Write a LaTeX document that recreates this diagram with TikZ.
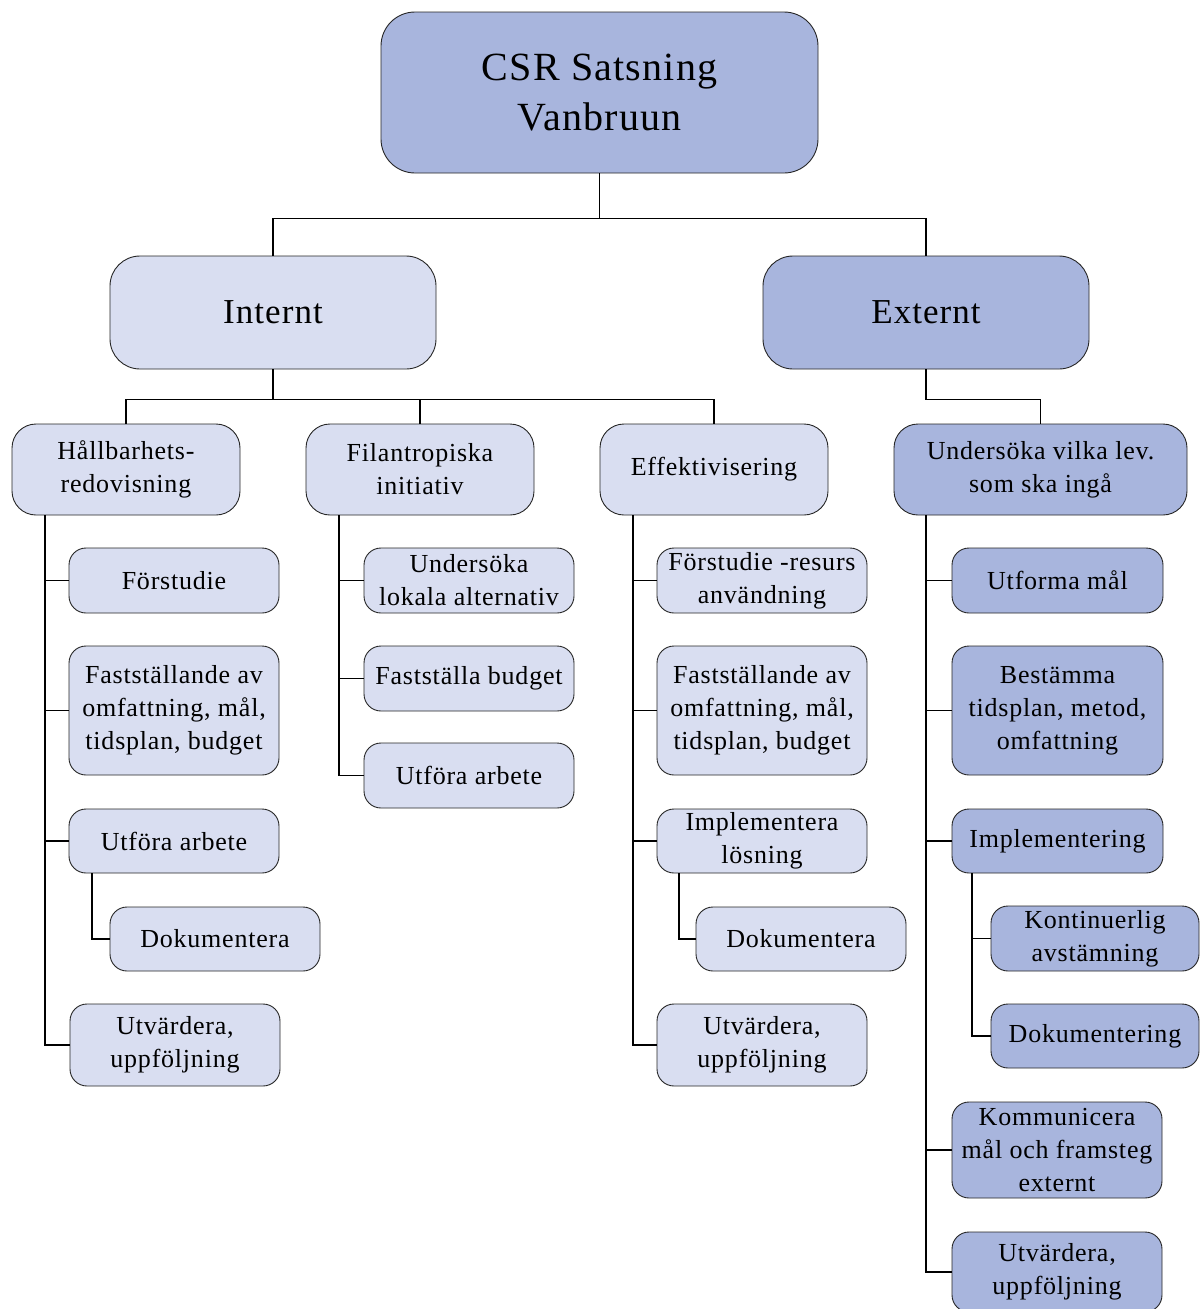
\documentclass[tikz,border=0pt]{standalone}
\usepackage{fontspec}
\setmainfont[LetterSpace=3]{Liberation Serif}
\definecolor{darkc}{HTML}{A8B5DD}
\definecolor{lightc}{HTML}{D9DEF1}
\begin{document}
\begin{tikzpicture}[x=1pt,y=-1pt,
  box/.style={draw=black!85, line width=0.9pt, rounded corners=17pt, align=center, inner sep=0pt,
    font=\fontsize{26}{33}\selectfont},
  lbox/.style={box, fill=lightc},
  dbox/.style={box, fill=darkc},
  conn/.style={draw=black, line width=1.3pt}]
\useasboundingbox (0,0) rectangle (1200,1309);
\clip (0,0) rectangle (1200,1309);
% top level
\node[dbox, minimum width=437pt, minimum height=161pt, rounded corners=34pt, font=\fontsize{40}{50}\selectfont] (top) at (599.5,92.5) {CSR Satsning\\Vanbruun};
\node[lbox, minimum width=326pt, minimum height=113pt, rounded corners=30pt, font=\fontsize{35}{40}\selectfont] (internt) at (273,312.5) {Internt};
\node[dbox, minimum width=326pt, minimum height=113pt, rounded corners=30pt, font=\fontsize{35}{40}\selectfont] (externt) at (926,312.5) {Externt};
% level 2
\node[lbox, minimum width=228pt, minimum height=91pt, rounded corners=24pt] (hall) at (126,469.5) {Hållbarhets-\\redovisning};
\node[lbox, minimum width=228pt, minimum height=91pt, rounded corners=24pt] (fil) at (420,469.5) {Filantropiska\\initiativ};
\node[lbox, minimum width=228pt, minimum height=91pt, rounded corners=24pt] (eff) at (714,469.5) {Effektivisering};
\node[dbox, minimum width=293pt, minimum height=91pt, rounded corners=24pt] (und) at (1040.5,469.5) {Undersöka vilka lev.\\som ska ingå};
% column 1
\node[lbox, minimum width=210pt, minimum height=65pt] (a1) at (174,580.5) {Förstudie};
\node[lbox, minimum width=210pt, minimum height=129pt] (a2) at (174,710.5) {Fastställande av\\omfattning, mål,\\tidsplan, budget};
\node[lbox, minimum width=210pt, minimum height=64pt] (a3) at (174,841) {Utföra arbete};
\node[lbox, minimum width=210pt, minimum height=64pt] (a3s) at (215,939) {Dokumentera};
\node[lbox, minimum width=210pt, minimum height=82pt] (a4) at (175,1045) {Utvärdera,\\uppföljning};
% column 2
\node[lbox, minimum width=210pt, minimum height=65pt] (b1) at (469,580.5) {Undersöka\\lokala alternativ};
\node[lbox, minimum width=210pt, minimum height=65pt] (b2) at (469,678.5) {Fastställa budget};
\node[lbox, minimum width=210pt, minimum height=65pt] (b3) at (469,775.5) {Utföra arbete};
% column 3
\node[lbox, minimum width=210pt, minimum height=65pt] (c1) at (762,580.5) {Förstudie -resurs\\användning};
\node[lbox, minimum width=210pt, minimum height=129pt] (c2) at (762,710.5) {Fastställande av\\omfattning, mål,\\tidsplan, budget};
\node[lbox, minimum width=210pt, minimum height=64pt] (c3) at (762,841) {Implementera\\lösning};
\node[lbox, minimum width=210pt, minimum height=64pt] (c3s) at (801,939) {Dokumentera};
\node[lbox, minimum width=210pt, minimum height=82pt] (c4) at (762,1045) {Utvärdera,\\uppföljning};
% column 4
\node[dbox, minimum width=211pt, minimum height=65pt] (d1) at (1057.5,580.5) {Utforma mål};
\node[dbox, minimum width=211pt, minimum height=129pt] (d2) at (1057.5,710.5) {Bestämma\\tidsplan, metod,\\omfattning};
\node[dbox, minimum width=211pt, minimum height=64pt] (d3) at (1057.5,841) {Implementering};
\node[dbox, minimum width=208pt, minimum height=65pt] (d3a) at (1095,938.5) {Kontinuerlig\\avstämning};
\node[dbox, minimum width=208pt, minimum height=64pt] (d3b) at (1095,1036) {Dokumentering};
\node[dbox, minimum width=210pt, minimum height=96pt] (d4) at (1057,1150) {Kommunicera\\mål och framsteg\\externt};
\node[dbox, minimum width=210pt, minimum height=80pt] (d5) at (1057,1272) {Utvärdera,\\uppföljning};
% connectors top
\draw[conn] (top.south) -- ++(0,45) -| (internt.north);
\draw[conn] (top.south) -- ++(0,45) -| (externt.north);
\draw[conn] (internt.south) -- ++(0,30) -| (hall.north);
\draw[conn] (internt.south) -- ++(0,30) -| (fil.north);
\draw[conn] (internt.south) -- ++(0,30) -| (eff.north);
\draw[conn] (externt.south) -- ++(0,30) -| (und.north);
% trunks
\coordinate (t1) at (45,515);
\coordinate (t2) at (339,515);
\coordinate (t3) at (633,515);
\coordinate (t4) at (926,515);
\coordinate (s1) at (92,873);
\coordinate (s3) at (679,873);
\coordinate (s4) at (972,873);
\foreach \n in {a1,a2,a3,a4} \draw[conn] (t1) |- (\n.west);
\draw[conn] (s1) |- (a3s.west);
\foreach \n in {b1,b2,b3} \draw[conn] (t2) |- (\n.west);
\foreach \n in {c1,c2,c3,c4} \draw[conn] (t3) |- (\n.west);
\draw[conn] (s3) |- (c3s.west);
\foreach \n in {d1,d2,d3,d4,d5} \draw[conn] (t4) |- (\n.west);
\draw[conn] (s4) |- (d3a.west);
\draw[conn] (s4) |- (d3b.west);
\end{tikzpicture}
\end{document}
